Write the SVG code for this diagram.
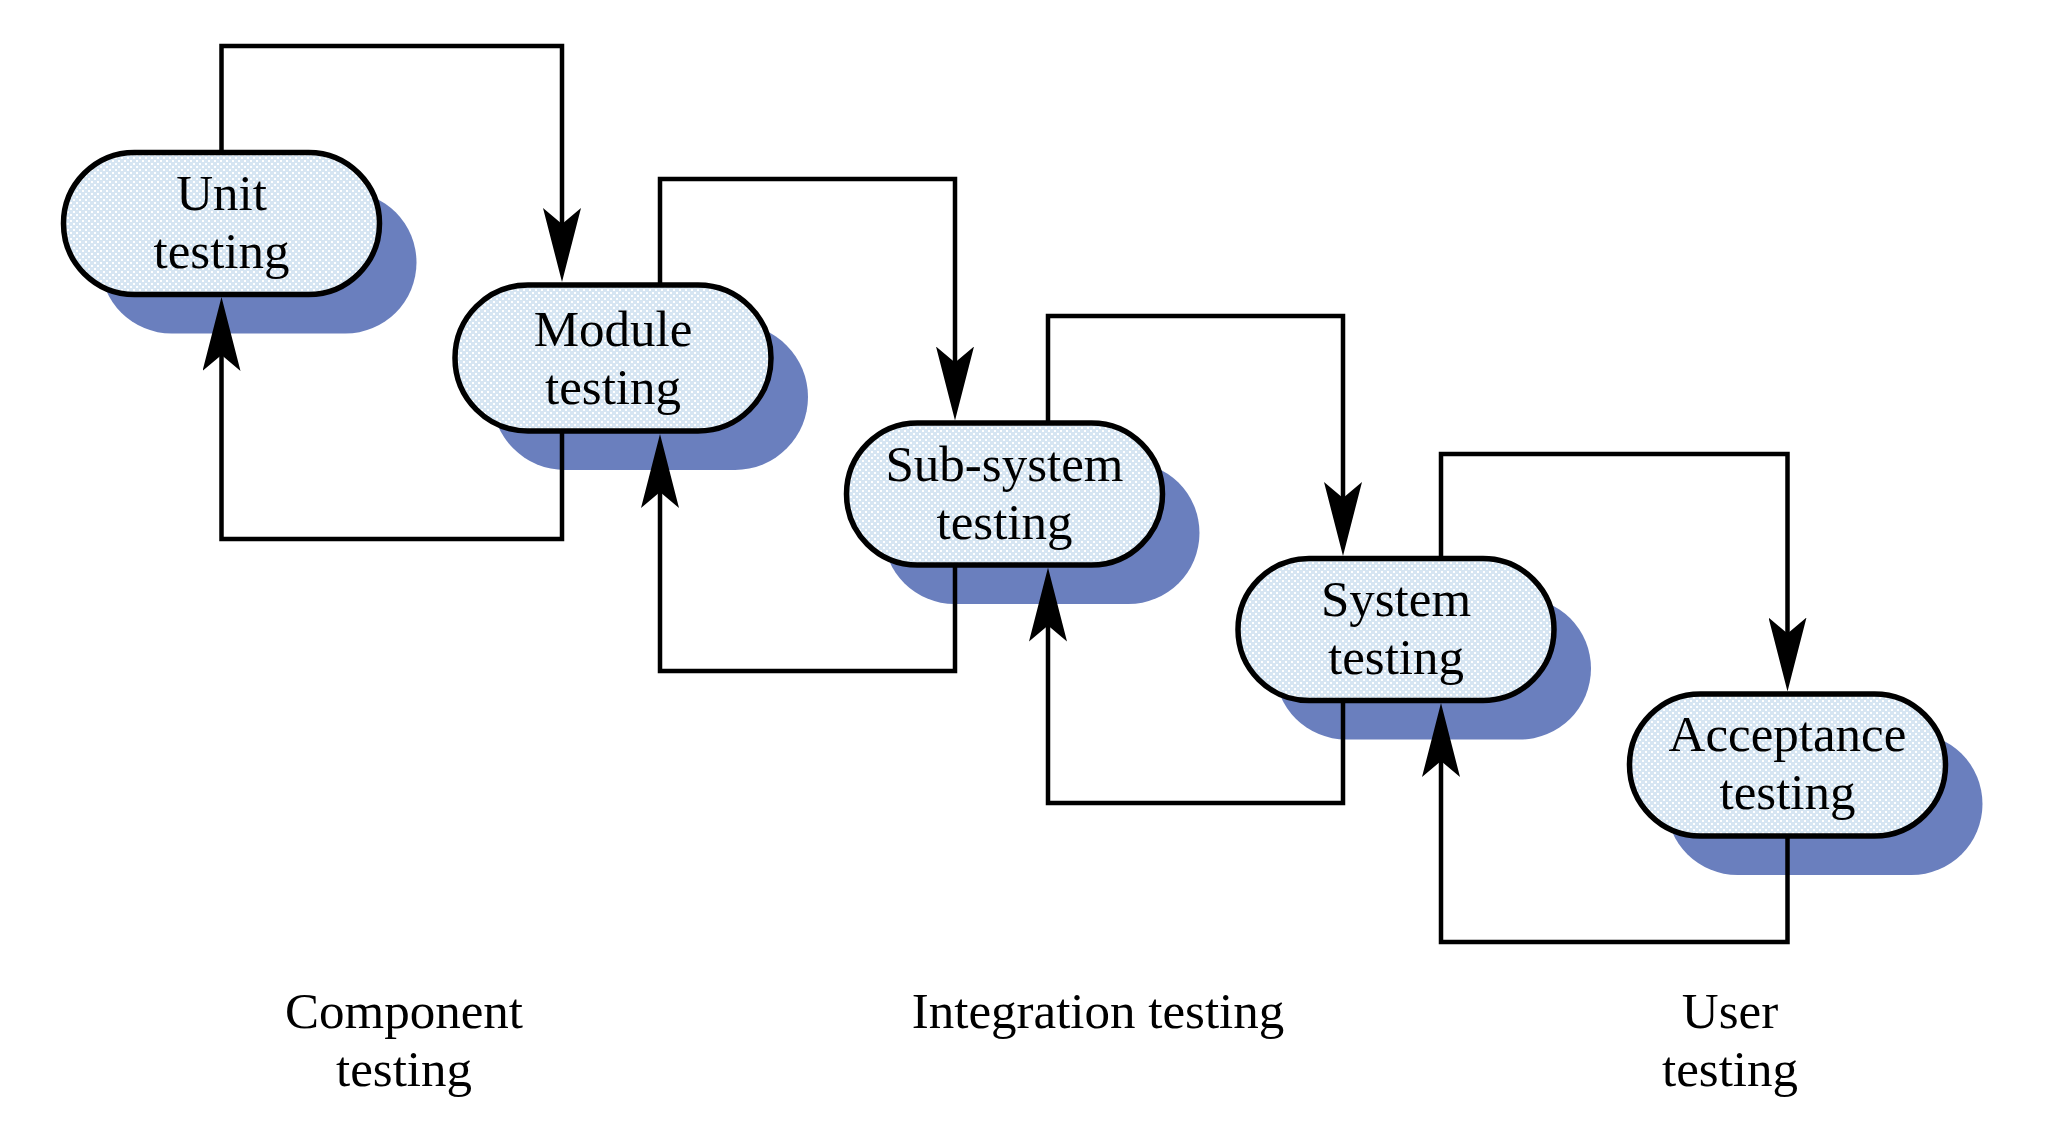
<svg xmlns="http://www.w3.org/2000/svg" width="2070" height="1133" viewBox="0 0 2070 1133">
  <style>
    .shadow { fill: #6a7fbe; stroke: none; }
    .box { fill: url(#dots); stroke: #000; stroke-width: 5.5; }
    .lbl { font-family: "Liberation Serif", "Times New Roman", serif; font-size: 51px; fill: #000; text-anchor: middle; }
    .conn { fill: none; stroke: #000; stroke-width: 4.5; stroke-linejoin: miter; marker-end: url(#arrow); }
  </style>
  <defs>
    <pattern id="dots" patternUnits="userSpaceOnUse" width="6" height="6">
      <rect width="6" height="6" fill="#d6e5f2"/>
      <rect x="1" y="1" width="2" height="2" fill="#ffffff"/>
      <rect x="4" y="4" width="2" height="2" fill="#ffffff"/>
    </pattern>
    <marker id="arrow" viewBox="0 0 74 38" refX="44" refY="19" markerWidth="74" markerHeight="38" markerUnits="userSpaceOnUse" orient="auto">
      <path d="M0,0 L74,19 L0,38 L16,19 Z" fill="#000"/>
    </marker>
  </defs>
  <rect width="2070" height="1133" fill="#ffffff"/>

  <g id="node-unit">
    <rect class="shadow" x="100.5" y="191.5" width="316" height="142" rx="71"/>
    <rect class="box" x="63.5" y="152.5" width="316" height="142" rx="71"/>
    <text class="lbl" x="221.5" y="210">Unit</text>
    <text class="lbl" x="221.5" y="268">testing</text>
  </g>
  <g id="node-module">
    <rect class="shadow" x="492" y="324" width="316" height="146" rx="73"/>
    <rect class="box" x="455" y="285" width="316" height="146" rx="73"/>
    <text class="lbl" x="613" y="346">Module</text>
    <text class="lbl" x="613" y="404">testing</text>
  </g>
  <g id="node-subsystem">
    <rect class="shadow" x="883.5" y="462" width="316" height="142" rx="71"/>
    <rect class="box" x="846.5" y="423" width="316" height="142" rx="71"/>
    <text class="lbl" x="1004.5" y="481">Sub-system</text>
    <text class="lbl" x="1004.5" y="539">testing</text>
  </g>
  <g id="node-system">
    <rect class="shadow" x="1275" y="597.5" width="316" height="142" rx="71"/>
    <rect class="box" x="1238" y="558.5" width="316" height="142" rx="71"/>
    <text class="lbl" x="1396" y="616">System</text>
    <text class="lbl" x="1396" y="674">testing</text>
  </g>
  <g id="node-acceptance">
    <rect class="shadow" x="1666.5" y="733" width="316" height="142" rx="71"/>
    <rect class="box" x="1629.5" y="694" width="316" height="142" rx="71"/>
    <text class="lbl" x="1787.5" y="751">Acceptance</text>
    <text class="lbl" x="1787.5" y="809">testing</text>
  </g>

  <g id="phase-labels">
    <text class="lbl" x="404" y="1028">Component</text>
    <text class="lbl" x="404" y="1086">testing</text>
    <text class="lbl" x="1098" y="1028">Integration testing</text>
    <text class="lbl" x="1730" y="1028">User</text>
    <text class="lbl" x="1730" y="1086">testing</text>
  </g>

  <g id="connectors">
    <path class="conn" d="M221.5,152 V46 H562 V252"/>
    <path class="conn" d="M562,432 V539 H221.5 V327"/>
    <path class="conn" d="M660,287 V179 H955 V390.5"/>
    <path class="conn" d="M955,567 V671 H660 V464"/>
    <path class="conn" d="M1048,422 V316 H1343 V526"/>
    <path class="conn" d="M1343,702 V803 H1048 V597.5"/>
    <path class="conn" d="M1441,557 V454 H1787.5 V661.5"/>
    <path class="conn" d="M1787.5,838 V942 H1441 V733"/>
  </g>
</svg>
